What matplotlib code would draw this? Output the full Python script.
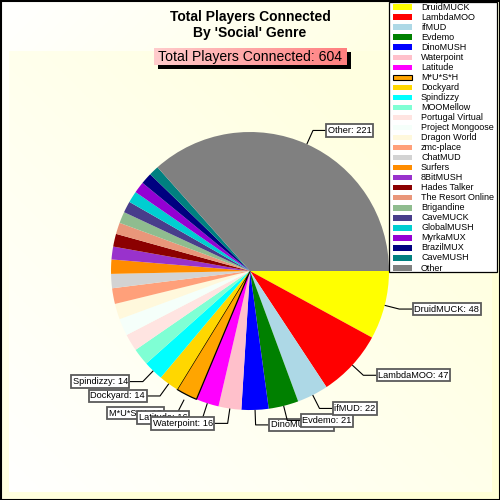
import numpy as np
import matplotlib
matplotlib.use("Agg")
import matplotlib.pyplot as plt
from matplotlib.patches import Rectangle

plt.rcParams['font.family'] = ['Liberation Sans', 'DejaVu Sans']

# ---- data ----
names = ["DruidMUCK", "LambdaMOO", "ifMUD", "Evdemo", "DinoMUSH", "Waterpoint",
         "Latitude", "M*U*S*H", "Dockyard", "Spindizzy", "MOOMellow",
         "Portugal Virtual", "Project Mongoose", "Dragon World", "zmc-place",
         "ChatMUD", "Surfers", "8BitMUSH", "Hades Talker", "The Resort Online",
         "Brigandine", "CaveMUCK", "GlobalMUSH", "MyrkaMUX", "BrazilMUX",
         "CaveMUSH", "Other"]
values = [48, 47, 22, 21, 19, 16, 16, 15, 14, 14, 12, 12, 12, 11, 11, 10, 10,
          9, 9, 8, 8, 8, 8, 8, 8, 7, 221]
colors = ["#FFFF00", "#FF0000", "#ADD8E6", "#008000", "#0000FF", "#FFC0CB",
          "#FF00FF", "#FFA500", "#FFD700", "#00FFFF", "#7FFFD4", "#FFE4E1",
          "#F5FFFA", "#FFF8DC", "#FFA07A", "#D3D3D3", "#FF8C00", "#9932CC",
          "#8B0000", "#E9967A", "#8FBC8F", "#483D8B", "#00CED1", "#9400D3",
          "#000080", "#008080", "#808080"]
labeled = [0, 1, 2, 3, 4, 5, 6, 7, 8, 9, 26]
highlight = 7
title_lines = ["Total Players Connected", "By 'Social' Genre"]
subtitle = "Total Players Connected: %d" % sum(values)

W = H = 500
def sy(y):
    return H - y

fig = plt.figure(figsize=(5, 5), dpi=100)
ax = fig.add_axes([0, 0, 1, 1])

# ---- background gradients ----
def gradient(x0, x1, y0, y1, fn, c0, c1, z):
    xs = np.linspace(x0, x1, 200)
    ys = np.linspace(y0, y1, 200)
    gx, gy = np.meshgrid(xs, ys)
    t = np.clip(fn(gx, gy), 0, 1)[..., None]
    img = np.array(c0)[None, None, :] * (1 - t) + np.array(c1)[None, None, :] * t
    ax.imshow(img, extent=(x0, x1, sy(y1), sy(y0)), origin='upper',
              zorder=z, aspect='auto')

white = [1.0, 1.0, 1.0]
yellow = [1.0, 1.0, 0.84]
gradient(0, W, 0, H, lambda x, y: (x + y) / 650.0, white, yellow, 0)
gradient(9, 492, 51, 492, lambda x, y: (x + (H - y)) / 750.0,
         white, [1.0, 1.0, 0.88], 0.5)

# ---- pie ----
cx, cy, R = 250, sy(271), 139
explode = [0.04 if i == highlight else 0 for i in range(len(values))]
wedges, _ = ax.pie(values, colors=colors, startangle=0, counterclock=False,
                   center=(cx, cy), radius=R, explode=explode,
                   wedgeprops=dict(linewidth=0), frame=True)
for w in wedges:
    w.set_zorder(2)
wedges[highlight].set_edgecolor('black')
wedges[highlight].set_linewidth(0.9)

# ---- labels ----
total = float(sum(values))
cum = np.concatenate([[0], np.cumsum(values)])
for i in labeled:
    mid = -(cum[i] + values[i] / 2.0) / total * 360.0
    a = np.deg2rad(mid)
    ex = explode[i] * R
    ox, oy = cx + ex * np.cos(a), cy + ex * np.sin(a)
    p0 = (ox + R * np.cos(a), oy + R * np.sin(a))
    p1 = (ox + 1.108 * R * np.cos(a), oy + 1.108 * R * np.sin(a))
    side = 1 if np.cos(a) >= 0 else -1
    p2 = (p1[0] + side * 13, p1[1])
    z = 50 - i * 0.5
    ax.plot([p0[0], p1[0], p2[0]], [p0[1], p1[1], p2[1]], color='black',
            lw=0.8, zorder=z, solid_capstyle='butt')
    ax.text(p2[0] + side * 2, p2[1], "%s: %d" % (names[i], values[i]),
            ha='left' if side > 0 else 'right', va='center', fontsize=6.7,
            zorder=z + 0.1,
            bbox=dict(boxstyle='square,pad=0.18', fc='white', ec='#5a5a5a',
                      lw=1.3))

# ---- title ----
ax.text(250, sy(17), title_lines[0], ha='center', va='center',
        fontsize=10, fontweight='bold', zorder=5)
ax.text(250, sy(33), title_lines[1], ha='center', va='center',
        fontsize=10, fontweight='bold', zorder=5)

# subtitle box with shadow and gradient
bx0, bx1, by0, by1 = 154, 347, 48, 65
ax.add_patch(Rectangle((bx0 + 4, sy(by1 + 4)), bx1 - bx0, by1 - by0,
                       fc='black', ec='none', zorder=5))
grad = np.linspace(0, 1, 100)[None, :, None]
g0 = np.array([1.0, 0.80, 0.80])
g1 = np.array([1.0, 0.50, 0.50])
gimg = g0 * (1 - grad) + g1 * grad
ax.imshow(gimg, extent=(bx0, bx1, sy(by1), sy(by0)), aspect='auto', zorder=6)
ax.text((bx0 + bx1) / 2, sy((by0 + by1) / 2 + 0.5), subtitle, ha='center',
        va='center', fontsize=10.1, zorder=7)

# ---- legend ----
lx0, lx1, ly0, ly1 = 389, 497, 2, 272
ax.add_patch(Rectangle((lx0, sy(ly1)), lx1 - lx0, ly1 - ly0, fc='white',
                       ec='black', lw=0.9, zorder=8))
for i, (n, c) in enumerate(zip(names, colors)):
    yc = 7 + i * 10.04
    ec = 'black' if i == highlight else 'none'
    ax.add_patch(Rectangle((393, sy(yc + 2.7)), 19, 5.4, fc=c, ec=ec,
                           lw=0.8, zorder=9))
    ax.text(421, sy(yc), n, ha='left', va='center', fontsize=6.5, zorder=9,
            clip_on=False)

# ---- outer border ----
ax.add_patch(Rectangle((0.5, 0.5), W - 1, H - 1, fc='none', ec='black',
                       lw=1.5, zorder=20))

ax.set_xlim(0, W)
ax.set_ylim(0, H)
ax.set_aspect('auto')
ax.axis('off')
fig.savefig("out.png", dpi=100)
